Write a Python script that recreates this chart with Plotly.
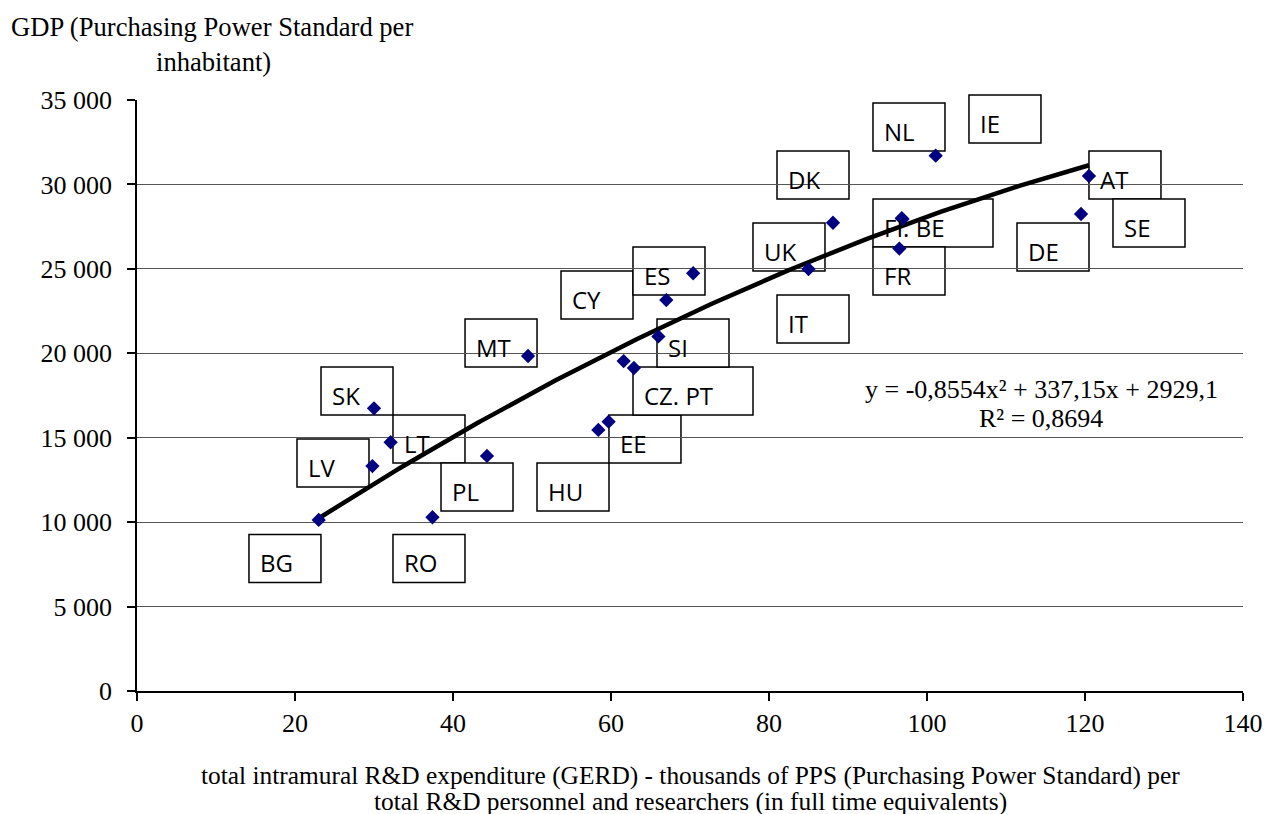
import numpy as np
import plotly.graph_objects as go

# ---- data ----
countries = ["BG", "RO", "LV", "LT", "SK", "PL", "HU", "EE", "PT", "CZ", "SI", "MT",
             "CY", "ES", "UK", "DK", "FR", "FI", "BE", "NL", "AT", "DE"]
gerd_per_staff = [23.0, 37.4, 29.8, 32.1, 30.0, 44.3, 58.4, 59.7, 61.6, 62.9, 66.0, 49.5,
                  67.0, 70.4, 85.0, 88.1, 96.5, 96.8, 96.9, 101.1, 120.5, 119.5]
gdp_pps = [10130, 10290, 13320, 14730, 16740, 13920, 15460, 15950, 19540, 19130, 21000, 19840,
           23150, 24740, 24990, 27730, 26200, 28000, 27950, 31700, 30500, 28250]

# trendline coefficients as printed on the chart
trend_a, trend_b, trend_c = -0.8554, 337.15, 2929.1
equation_text = "y = -0,8554x² + 337,15x + 2929,1"
r2_text = "R² = 0,8694"

# label boxes (text and box centre in data units)
label_text = ["BG", "RO", "LV", "LT", "SK", "PL", "HU", "EE", "CZ. PT", "SI", "MT", "CY",
              "ES", "UK", "IT", "DK", "FI. BE", "FR", "NL", "IE", "AT", "SE", "DE"]
label_x = [18.73, 36.96, 24.81, 36.96, 27.85, 43.04, 55.19, 64.30, 70.38, 70.38, 46.08, 58.23,
           67.34, 82.53, 85.57, 85.57, 100.76, 97.72, 97.72, 109.87, 125.06, 128.10, 115.95]
label_y = [7847, 7847, 13502, 14924, 17766, 12081, 12081, 14924, 17766, 20609, 20609, 23451,
           24873, 26294, 22030, 30558, 27715, 24873, 33401, 33874, 30558, 27715, 26294]

x_ticks = [0, 20, 40, 60, 80, 100, 120, 140]
y_ticks = [0, 5000, 10000, 15000, 20000, 25000, 30000, 35000]
X_RANGE = [0, 140]
Y_RANGE = [0, 35000]

# ---- layout geometry (body margin removed via post_script) ----
W, H = 1266, 814
ML, MR, MT_, MB = 137, 23, 100, 123
PW, PH = W - ML - MR, H - MT_ - MB

def px_x(px):  # page pixel -> paper x
    return (px - ML) / PW

def px_y(py):  # page pixel -> paper y
    return (H - MB - py) / PH

SERIF = "Liberation Serif"
SANS = "Open Sans"

fig = go.Figure()

# trendline
xs = np.linspace(min(gerd_per_staff), max(gerd_per_staff), 200)
ys = trend_a * xs ** 2 + trend_b * xs + trend_c
fig.add_trace(go.Scatter(x=xs, y=ys, mode="lines",
                         line=dict(color="black", width=4.5),
                         hoverinfo="skip", showlegend=False))

# points
fig.add_trace(go.Scatter(x=gerd_per_staff, y=gdp_pps, mode="markers",
                         text=countries,
                         marker=dict(symbol="diamond", size=11, color="#000080",
                                     line=dict(width=0)),
                         showlegend=False))

shapes = []
annotations = []
for t, lx, ly in zip(label_text, label_x, label_y):
    half = 60 if len(t) > 3 else 36
    ax = (lx - X_RANGE[0]) / (X_RANGE[1] - X_RANGE[0])
    ay = (ly - Y_RANGE[0]) / (Y_RANGE[1] - Y_RANGE[0])
    shapes.append(dict(type="rect", xref="paper", yref="paper",
                       xsizemode="pixel", ysizemode="pixel",
                       xanchor=ax, yanchor=ay,
                       x0=-half, x1=half, y0=-24, y1=24,
                       line=dict(color="black", width=1.5),
                       fillcolor="white", layer="between"))
    annotations.append(dict(x=lx, y=ly, xref="x", yref="y", text=t,
                            showarrow=False, xanchor="left", yanchor="middle",
                            xshift=-half + 9, yshift=-4,
                            font=dict(family=SANS, size=24, color="black")))

# axis titles and equation
annotations += [
    dict(xref="paper", yref="paper", x=px_x(212), y=px_y(27),
         text="GDP (Purchasing Power Standard per", showarrow=False,
         xanchor="center", yanchor="middle",
         font=dict(family=SERIF, size=26.6, color="black")),
    dict(xref="paper", yref="paper", x=px_x(213), y=px_y(62),
         text="inhabitant)", showarrow=False,
         xanchor="center", yanchor="middle",
         font=dict(family=SERIF, size=26.6, color="black")),
    dict(xref="paper", yref="paper", x=px_x(690), y=px_y(775),
         text="total intramural R&amp;D expenditure (GERD) - thousands of PPS (Purchasing Power Standard) per",
         showarrow=False, xanchor="center", yanchor="middle",
         font=dict(family=SERIF, size=25.4, color="black")),
    dict(xref="paper", yref="paper", x=px_x(690), y=px_y(801),
         text="total R&amp;D personnel and researchers (in full time equivalents)",
         showarrow=False, xanchor="center", yanchor="middle",
         font=dict(family=SERIF, size=25.4, color="black")),
    dict(xref="paper", yref="paper", x=px_x(1041), y=px_y(389),
         text=equation_text, showarrow=False, xanchor="center", yanchor="middle",
         font=dict(family=SERIF, size=26, color="black")),
    dict(xref="paper", yref="paper", x=px_x(1041), y=px_y(418),
         text=r2_text, showarrow=False, xanchor="center", yanchor="middle",
         font=dict(family=SERIF, size=26, color="black")),
]

fig.update_layout(
    width=W, height=H,
    margin=dict(l=ML, r=MR, t=MT_, b=MB, pad=0, autoexpand=False),
    paper_bgcolor="white", plot_bgcolor="white",
    separators=", ",
    shapes=shapes, annotations=annotations,
    showlegend=False,
)
fig.update_xaxes(range=X_RANGE, tickvals=x_ticks, showgrid=False, zeroline=False,
                 automargin=False,
                 showline=True, linecolor="black", linewidth=1.5,
                 ticks="outside", ticklen=8, tickcolor="black", tickwidth=1.5,
                 tickfont=dict(family=SERIF, size=26, color="black"))
fig.update_yaxes(range=Y_RANGE, tickvals=y_ticks, tickformat=",d",
                 automargin=False,
                 showgrid=True, gridcolor="#555555", gridwidth=1, zeroline=False,
                 showline=True, linecolor="black", linewidth=1.5,
                 ticks="outside", ticklen=8, tickcolor="black", tickwidth=1.5,
                 ticklabelstandoff=10,
                 tickfont=dict(family=SERIF, size=26, color="black"))

fig.write_html("out.html",
               config={"displayModeBar": False},
               post_script="document.body.style.margin='0';document.body.style.overflow='hidden';")
